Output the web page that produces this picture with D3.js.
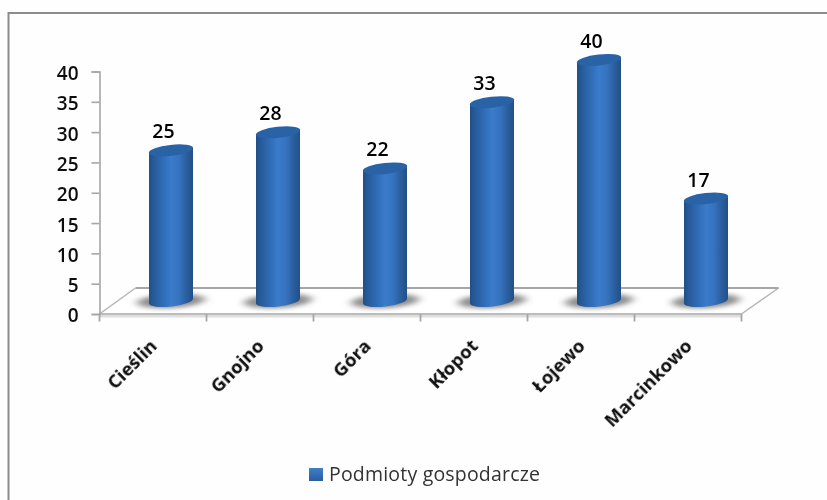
<!DOCTYPE html>
<html><head><meta charset="utf-8">
<style>html,body{margin:0;padding:0;background:#fff}svg{display:block}
text{font-family:"Open Sans",sans-serif}</style>
<script src="https://cdn.jsdelivr.net/npm/d3@7/dist/d3.min.js"></script></head>
<body><script>
const categories = ["Cieślin","Gnojno","Góra","Kłopot","Łojewo","Marcinkowo"];
const values = [25,28,22,33,40,17];
const yTicks = [0,5,10,15,20,25,30,35,40];
const seriesName = "Podmioty gospodarcze";

const W=827,H=500;
const svg=d3.select("body").append("svg").attr("width",W).attr("height",H);
const defs=svg.append("defs");
const bg=defs.append("linearGradient").attr("id","body");
[[0,"#214f88"],[.1,"#265a98"],[.3,"#2f6bb4"],[.5,"#3a7bcb"],[.68,"#3673bf"],[.85,"#2a5f9f"],[1,"#234f85"]]
 .forEach(d=>bg.append("stop").attr("offset",d[0]).attr("stop-color",d[1]));
const lg=defs.append("linearGradient").attr("id","leg").attr("x2",0).attr("y2",1);
[[0,"#3f7fcb"],[1,"#2b5c9f"]].forEach(d=>lg.append("stop").attr("offset",d[0]).attr("stop-color",d[1]));
defs.append("filter").attr("id","shadow").attr("x","-30%").attr("y","-100%").attr("width","160%").attr("height","300%")
 .append("feGaussianBlur").attr("stdDeviation","5 2");
defs.append("filter").attr("id","soft").append("feGaussianBlur").attr("stdDeviation",.4);

svg.append("rect").attr("width",W).attr("height",H).attr("fill","#fefefe");
svg.append("path").attr("d",`M${W},13H8.5V${H}`).attr("fill","none").attr("stroke","#8c8c8c").attr("stroke-width",2);

const x=d3.scaleBand().domain(categories).range([99.5,741.5]);
const y=d3.scaleLinear().domain([0,40]).range([314,71.5]);
const yBar=d3.scaleLinear().domain([0,40]).range([301,60]);
const depthX=36,depthY=26,barW=44,ry=5.5,tilt=2.6;
const grid="#a6a6a6";

// floor
const fl=svg.append("g");
fl.append("rect").attr("x",x.range()[0]).attr("y",y(0)+1).attr("width",x.range()[1]-x.range()[0]).attr("height",2.5).attr("fill","#dedede");
fl.append("path").attr("d",`M${x.range()[0]},${y(0)}L${x.range()[0]+depthX},${y(0)-depthY}H${x.range()[1]+depthX+1}L${x.range()[1]},${y(0)}Z`)
 .attr("fill","#fff");
fl.append("path").attr("d",`M${x.range()[0]},${y(0)}L${x.range()[0]+depthX},${y(0)-depthY}`).attr("stroke","#b5b5b5").attr("stroke-width",1.5).attr("fill","none");
fl.append("path").attr("d",`M${x.range()[1]},${y(0)}L${x.range()[1]+depthX+1},${y(0)-depthY}`).attr("stroke","#b5b5b5").attr("stroke-width",1.5).attr("fill","none");
fl.append("path").attr("d",`M${x.range()[0]+depthX},${y(0)-depthY}H${x.range()[1]+depthX+1}`).attr("stroke",grid).attr("stroke-width",2).attr("fill","none");
fl.append("path").attr("d",`M${x.range()[0]},${y(0)}H${x.range()[1]}`).attr("stroke",grid).attr("stroke-width",1.5).attr("fill","none");

// axes
const yAxis=d3.axisLeft(y).tickValues(yTicks).tickSize(8).tickPadding(13);
const gy=svg.append("g").attr("transform",`translate(${x.range()[0]},0)`).call(yAxis);
gy.selectAll("path,line").attr("stroke",grid).attr("stroke-width",1.6);
gy.selectAll("text").attr("font-size",19).attr("font-weight",600).attr("fill","#111").attr("dy","0.42em").attr("filter","url(#soft)");

const gx=svg.append("g");
const edges=d3.range(categories.length+1).map(i=>x.range()[0]+i*x.bandwidth());
gx.selectAll("line").data(edges).join("line").attr("x1",d=>d).attr("x2",d=>d).attr("y1",y(0)).attr("y2",y(0)+7.5)
 .attr("stroke",grid).attr("stroke-width",1.8);

// bars
const cx=c=>x(c)+x.bandwidth()/2+18;
const bars=svg.selectAll("g.bar").data(categories.map((c,i)=>({c,v:values[i]}))).join("g").attr("class","bar");
bars.append("ellipse").attr("cx",d=>cx(d.c)).attr("cy",yBar(0)).attr("rx",34).attr("ry",7)
 .attr("transform",d=>`rotate(-3 ${cx(d.c)} ${yBar(0)})`).attr("fill","#8f8f8f").attr("filter","url(#shadow)");
bars.append("path").attr("fill","url(#body)").attr("d",d=>{
  const c=cx(d.c),t=yBar(d.v),b=yBar(0),h=barW/2;
  return `M${c-h},${t+tilt}L${c-h},${b+tilt}A${h},${ry} -6.5 0 0 ${c+h},${b-tilt}L${c+h},${t-tilt}Z`;
});
bars.append("ellipse").attr("cx",d=>cx(d.c)).attr("cy",d=>yBar(d.v)).attr("rx",barW/2+.3).attr("ry",ry)
 .attr("transform",d=>`rotate(-6.5 ${cx(d.c)} ${yBar(d.v)})`).attr("fill","#2a62a6");
bars.append("text").attr("x",d=>cx(d.c)-7.5).attr("y",d=>yBar(d.v)-12).attr("text-anchor","middle")
 .attr("font-size",19.5).attr("font-weight",600).attr("fill","#000").attr("filter","url(#soft)").text(d=>d.v);

// category labels
svg.selectAll("text.cat").data(categories).join("text").attr("class","cat")
 .attr("transform",d=>`translate(${x(d)+x.bandwidth()/2-4},338) rotate(-45)`)
 .attr("text-anchor","end").attr("dy","0.7em").attr("font-size",18.5).attr("font-weight",700).attr("fill","#111")
 .attr("filter","url(#soft)").text(d=>d);

// legend
svg.append("rect").attr("x",309).attr("y",468).attr("width",14).attr("height",13).attr("fill","url(#leg)");
svg.append("text").attr("x",329).attr("y",481).attr("font-size",19.5).attr("fill","#333").attr("filter","url(#soft)")
 .attr("textLength",211).attr("lengthAdjust","spacing").text(seriesName);
</script></body></html>
